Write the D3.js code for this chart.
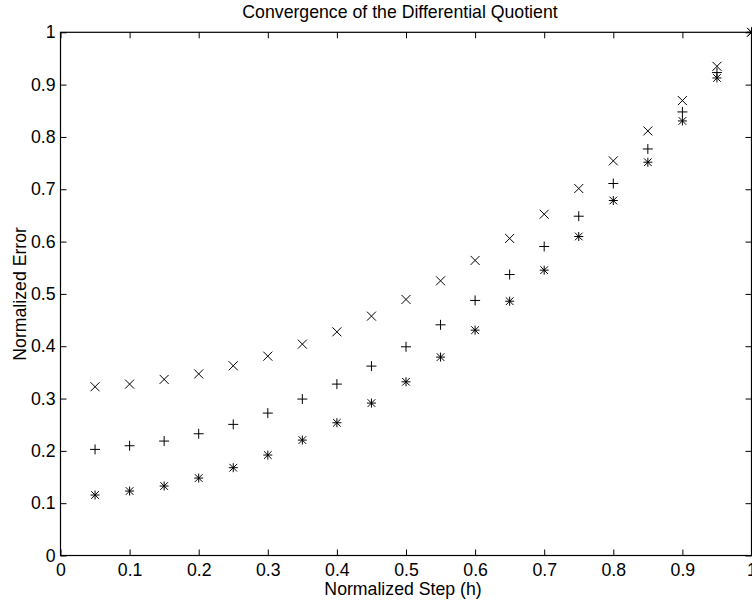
<!DOCTYPE html>
<html>
<head>
<meta charset="utf-8">
<script src="https://cdn.jsdelivr.net/npm/d3@7"></script>
<style>
  html, body { margin: 0; padding: 0; background: #fff; }
  svg { display: block; }
  text { font-family: "Liberation Sans", Arial, Helvetica, sans-serif; fill: #000; }
</style>
</head>
<body>
<svg id="chart" width="752" height="603"></svg>
<script>
const titleText = "Convergence of the Differential Quotient";
const xLabelText = "Normalized Step (h)";
const yLabelText = "Normalized Error";

const steps = [0.05, 0.10, 0.15, 0.20, 0.25, 0.30, 0.35, 0.40, 0.45, 0.50,
               0.55, 0.60, 0.65, 0.70, 0.75, 0.80, 0.85, 0.90, 0.95, 1.00];
const seriesX = [0.3225, 0.3276, 0.3366, 0.3470, 0.3626, 0.3810, 0.4040, 0.4275, 0.4575, 0.4894,
                 0.5250, 0.5640, 0.6060, 0.6523, 0.7014, 0.7542, 0.8115, 0.8695, 0.9350, 1.0000];
const seriesPlus = [0.2028, 0.2098, 0.2187, 0.2327, 0.2506, 0.2722, 0.2990, 0.3276, 0.3620, 0.3989,
                    0.4409, 0.4875, 0.5370, 0.5906, 0.6485, 0.7110, 0.7770, 0.8478, 0.9230, 1.0000];
const seriesStar = [0.1156, 0.1232, 0.1328, 0.1480, 0.1678, 0.1920, 0.2206, 0.2537, 0.2913, 0.3320,
                    0.3792, 0.4307, 0.4860, 0.5454, 0.6097, 0.6785, 0.7517, 0.8306, 0.9127, 1.0000];

const xTickValues = [0, 0.1, 0.2, 0.3, 0.4, 0.5, 0.6, 0.7, 0.8, 0.9, 1];
const xTickLabels = ["0", "0.1", "0.2", "0.3", "0.4", "0.5", "0.6", "0.7", "0.8", "0.9", "1"];
const yTickValues = [0, 0.1, 0.2, 0.3, 0.4, 0.5, 0.6, 0.7, 0.8, 0.9, 1];
const yTickLabels = ["0", "0.1", "0.2", "0.3", "0.4", "0.5", "0.6", "0.7", "0.8", "0.9", "1"];

const FS = 17.7;
const L = 60.5, R = 751.5, T = 32.3, B = 555.5;

const svg = d3.select("#chart");
const x = d3.scaleLinear().domain([0, 1]).range([L, R]);
const y = d3.scaleLinear().domain([0, 1]).range([B, T]);

function styleAxis(g) {
  g.select(".domain").remove();
  g.selectAll(".tick line").attr("stroke", "#000").attr("stroke-width", 1);
  g.selectAll(".tick text").attr("font-size", FS).attr("fill", "#000")
    .attr("font-family", "'Liberation Sans', Arial, sans-serif");
}

// bottom
svg.append("g").attr("transform", `translate(0,${B})`)
  .call(d3.axisBottom(x).tickValues(xTickValues)
    .tickFormat((d, i) => xTickLabels[i]).tickSizeInner(-6).tickSizeOuter(0).tickPadding(8.4))
  .call(styleAxis);
// top
svg.append("g").attr("transform", `translate(0,${T})`)
  .call(d3.axisTop(x).tickValues(xTickValues).tickFormat(() => "").tickSizeInner(-6).tickSizeOuter(0))
  .call(styleAxis);
// left
svg.append("g").attr("transform", `translate(${L},0)`)
  .call(d3.axisLeft(y).tickValues(yTickValues)
    .tickFormat((d, i) => yTickLabels[i]).tickSizeInner(-6).tickSizeOuter(0).tickPadding(5))
  .call(styleAxis);
// right
svg.append("g").attr("transform", `translate(${R},0)`)
  .call(d3.axisRight(y).tickValues(yTickValues).tickFormat(() => "").tickSizeInner(-6).tickSizeOuter(0))
  .call(styleAxis);

// box
svg.append("rect").attr("x", L).attr("y", T).attr("width", R - L).attr("height", B - T)
  .attr("fill", "none").attr("stroke", "#000").attr("stroke-width", 1.2);

// markers
const r = 4.5;
function crossPath(cx, cy, s) {
  return `M${cx - s},${cy - s}L${cx + s},${cy + s}M${cx - s},${cy + s}L${cx + s},${cy - s}`;
}
function plusPath(cx, cy, s) {
  return `M${cx - s},${cy}L${cx + s},${cy}M${cx},${cy - s}L${cx},${cy + s}`;
}
const pts = (vals) => steps.map((s, i) => ({ px: x(s), py: y(vals[i]) }));

const gm = svg.append("g").attr("fill", "none").attr("stroke", "#000").attr("stroke-width", 1);
gm.selectAll("path.sx").data(pts(seriesX)).join("path").attr("class", "sx")
  .attr("d", d => crossPath(d.px, d.py, r));
gm.selectAll("path.sp").data(pts(seriesPlus)).join("path").attr("class", "sp")
  .attr("d", d => plusPath(d.px, d.py, r + 0.5));
gm.selectAll("path.ss").data(pts(seriesStar)).join("path").attr("class", "ss")
  .attr("d", d => plusPath(d.px, d.py, r) + crossPath(d.px, d.py, r * 0.85));

// texts
svg.append("text").attr("x", 400).attr("y", 17.5).attr("text-anchor", "middle")
  .attr("font-size", FS).text(titleText);
svg.append("text").attr("x", 403).attr("y", 595).attr("text-anchor", "middle")
  .attr("font-size", FS).text(xLabelText);
svg.append("text").attr("transform", `translate(25.5,${(T + B) / 2}) rotate(-90)`)
  .attr("text-anchor", "middle").attr("font-size", FS).text(yLabelText);
</script>
</body>
</html>
